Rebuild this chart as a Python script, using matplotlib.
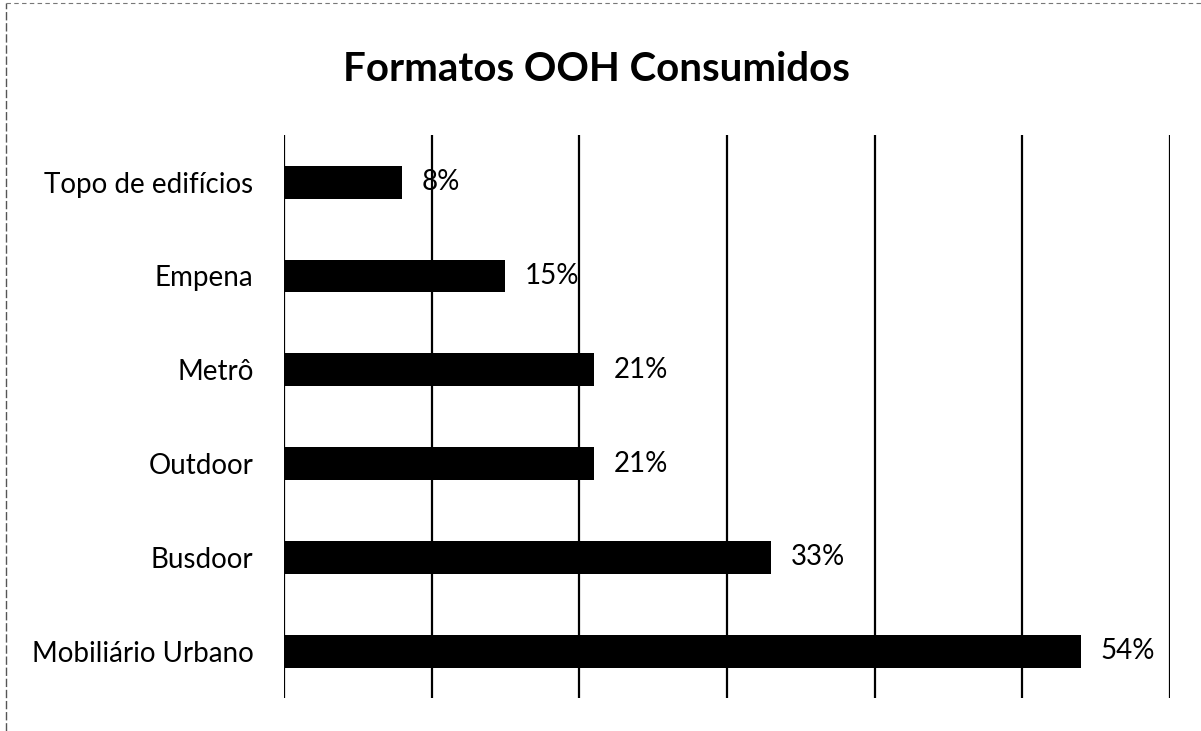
import matplotlib.pyplot as plt
from matplotlib.lines import Line2D

categories = ["Mobiliário Urbano", "Busdoor", "Outdoor", "Metrô", "Empena", "Topo de edifícios"]
values = [54, 33, 21, 21, 15, 8]
labels = ["54%", "33%", "21%", "21%", "15%", "8%"]


def main():
    plt.rcParams["font.family"] = ["Lato", "DejaVu Sans"]
    fig = plt.figure(figsize=(12.01, 7.31), dpi=100)
    ax = fig.add_axes([0.2365, 0.045, 0.7375, 0.770])

    pos = list(range(len(categories)))
    ax.barh(pos, values, height=0.35, color="black", zorder=3)
    for y, v, lab in zip(pos, values, labels):
        ax.annotate(lab, (v, y), xytext=(14, 0), textcoords="offset points",
                    va="center", ha="left", fontsize=20)

    ax.set_xlim(0, 60)
    ax.set_ylim(-0.5, 5.5)
    ax.set_xticks(range(0, 61, 10))
    ax.set_xticklabels([])
    ax.set_yticks(pos)
    ax.set_yticklabels(categories, fontsize=20)
    ax.tick_params(axis="both", length=0)
    ax.tick_params(axis="y", pad=22)
    ax.grid(axis="x", color="black", linewidth=1.6, zorder=0)
    for s in ax.spines.values():
        s.set_visible(False)

    fig.text(0.497, 0.905, "Formatos OOH Consumidos", ha="center", va="center",
             fontsize=29, fontweight="bold")

    # scanned frame border
    fig.add_artist(Line2D([0.005, 0.005], [0.0, 0.996], color="#555555", linewidth=1.0,
                          linestyle=(0, (6, 2)), transform=fig.transFigure))
    fig.add_artist(Line2D([0.005, 1.0], [0.996, 0.996], color="#777777", linewidth=0.8,
                          linestyle=(0, (4, 3)), transform=fig.transFigure))

    fig.savefig("out.png", dpi=100, facecolor="white")


if __name__ == '__main__':
    main()
